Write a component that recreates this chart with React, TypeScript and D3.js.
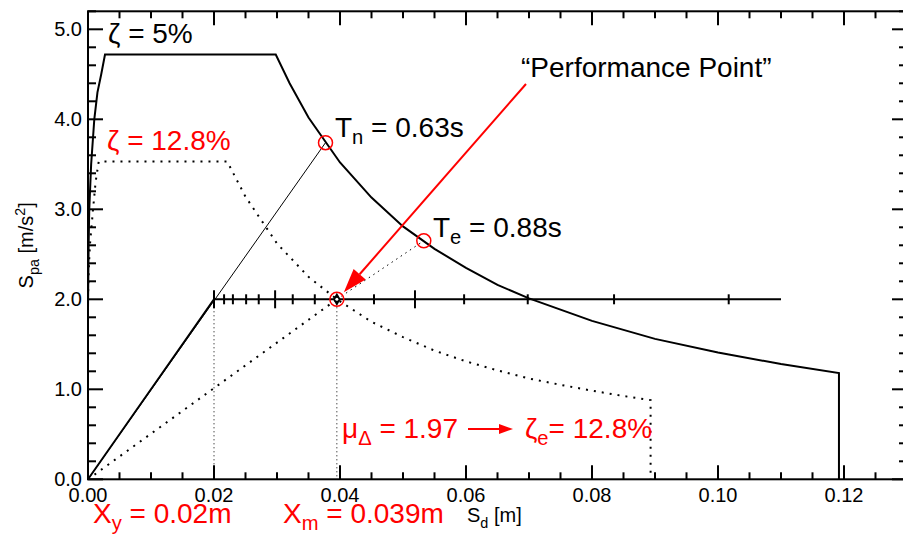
import React from "react"
import * as d3 from "d3"

// 5% damped spectrum (Sd in m, Sa in m/s^2)
const sd5 = [0, 0.0001, 0.0002, 0.0005, 0.001, 0.0015, 0.0021, 0.0027, 0.0298, 0.032, 0.035, 0.04, 0.045, 0.05, 0.055, 0.06, 0.065, 0.07, 0.08, 0.09, 0.1, 0.11, 0.1192]
const sa5 = [1.9, 2.6, 3.0, 3.5, 4.0, 4.3, 4.5, 4.72, 4.72, 4.4, 4.02, 3.52, 3.13, 2.81, 2.56, 2.35, 2.16, 2.01, 1.76, 1.56, 1.41, 1.28, 1.18]

// 12.8% damped spectrum
const sd13 = [0, 0.0001, 0.0003, 0.0008, 0.0012, 0.0017, 0.0221, 0.025, 0.03, 0.035, 0.0395, 0.045, 0.05, 0.055, 0.06, 0.065, 0.07, 0.075, 0.08, 0.085, 0.0893]
const sa13 = [2.0, 2.3, 2.6, 3.0, 3.3, 3.53, 3.53, 3.14, 2.62, 2.25, 2.0, 1.75, 1.58, 1.43, 1.31, 1.21, 1.12, 1.05, 0.985, 0.925, 0.88]

// bilinear capacity curve
const capSd = [0, 0.02, 0.11]
const capSa = [0, 2.0, 2.0]
const capTicksMajor = [0.02, 0.0297, 0.0519]
const capTicksMinor = [0.0216, 0.023, 0.0251, 0.0271, 0.0325, 0.036, 0.0454, 0.0597, 0.0698, 0.0835, 0.1017]

// key points
const yieldPt = [0.02, 2.0]
const perfPt = [0.0395, 2.0]
const tnPt = [0.0377, 3.74]
const tePt = [0.0533, 2.65]

const xTickLabels = ["0.00", "0.02", "0.04", "0.06", "0.08", "0.10", "0.12"]
const yTickLabels = ["0.0", "1.0", "2.0", "3.0", "4.0", "5.0"]

const W = 903
const H = 535
const FONT = "'Liberation Sans', Arial, Helvetica, sans-serif"
const RED = "#ff0000"

export default function App() {
  const x = d3.scaleLinear().domain([0, 0.13]).range([88, 907])
  const y = d3.scaleLinear().domain([0, 5.2]).range([479.3, 11.3])

  const line = d3.line<number[]>().x(d => x(d[0])).y(d => y(d[1]))
  const curve5 = line(sd5.map((s, i) => [s, sa5[i]]).concat([[sd5[sd5.length - 1], 0]]))
  const curve13 = line(sd13.map((s, i) => [s, sa13[i]]).concat([[sd13[sd13.length - 1], 0]]))
  const cap = line(capSd.map((s, i) => [s, capSa[i]]))

  const xMinor = d3.range(0, 0.1301, 0.005)
  const xMajor = d3.range(0, 0.1301, 0.02)
  const yMinor = d3.range(0, 5.21, 0.2)
  const yMajor = d3.range(0, 5.01, 1)

  const x0 = x(0), x1 = x(0.13), y0 = y(0), y1 = y(5.2)

  // red arrow towards the performance point
  const px = x(perfPt[0]), py = y(perfPt[1])
  const tip = [px + 7, py - 7]
  const tail = [526, 84]
  const ang = Math.atan2(tip[1] - tail[1], tip[0] - tail[0])
  const headL = 24, headW = 8
  const base = [tip[0] - headL * Math.cos(ang), tip[1] - headL * Math.sin(ang)]
  const head = [
    tip,
    [base[0] + headW * Math.sin(ang), base[1] - headW * Math.cos(ang)],
    [base[0] - headW * Math.sin(ang), base[1] + headW * Math.cos(ang)],
  ]

  const sub = { fontSize: "0.72em" } as React.CSSProperties

  return (
    <svg width={W} height={H} style={{ position: "absolute", left: 0, top: 0, background: "#fff" }} fontFamily={FONT}>
      {/* frame */}
      <rect x={x0} y={y1} width={x1 - x0} height={y0 - y1} fill="none" stroke="#000" strokeWidth={2} />
      {xMinor.map((v, i) => {
        const major = xMajor.some(m => Math.abs(m - v) < 1e-6)
        const len = major ? 14 : 7
        return (
          <g key={"xt" + i} stroke="#000" strokeWidth={2}>
            <line x1={x(v)} x2={x(v)} y1={y0} y2={y0 - len} />
            <line x1={x(v)} x2={x(v)} y1={y1} y2={y1 + len} />
          </g>
        )
      })}
      {yMinor.map((v, i) => {
        const major = yMajor.some(m => Math.abs(m - v) < 1e-6)
        const len = major ? 15 : 8
        return (
          <g key={"yt" + i} stroke="#000" strokeWidth={2}>
            <line x1={x0} x2={x0 + len} y1={y(v)} y2={y(v)} />
            <line x1={x1} x2={x1 - len} y1={y(v)} y2={y(v)} />
          </g>
        )
      })}
      {xTickLabels.map((t, i) => (
        <text key={"xl" + i} x={x(xMajor[i])} y={502} textAnchor="middle" fontSize={20}>{t}</text>
      ))}
      {yTickLabels.map((t, i) => (
        <text key={"yl" + i} x={82} y={y(yMajor[i]) + 7} textAnchor="end" fontSize={20}>{t}</text>
      ))}

      {/* axis titles */}
      <text x={467} y={522} fontSize={20}>S<tspan dy={6} style={sub}>d</tspan><tspan dy={-6}> [m]</tspan></text>
      <text transform={`translate(33,${y(2.6)}) rotate(-90)`} textAnchor="middle" fontSize={20}>
        S<tspan dy={6} style={sub}>pa</tspan><tspan dy={-6}> [m/s</tspan><tspan dy={-8} style={sub}>2</tspan><tspan dy={8}>]</tspan>
      </text>

      {/* spectra */}
      <path d={curve5 || ""} fill="none" stroke="#000" strokeWidth={2} />
      <path d={curve13 || ""} fill="none" stroke="#000" strokeWidth={2} strokeDasharray="2,6" />

      {/* stiffness lines */}
      <line x1={x(0)} y1={y(0)} x2={x(tnPt[0])} y2={y(tnPt[1])} stroke="#000" strokeWidth={1} />
      <line x1={x(0)} y1={y(0)} x2={x(perfPt[0])} y2={y(perfPt[1])} stroke="#000" strokeWidth={2} strokeDasharray="2,6" />
      <line x1={x(perfPt[0])} y1={y(perfPt[1])} x2={x(tePt[0])} y2={y(tePt[1])} stroke="#000" strokeWidth={1} strokeDasharray="1.5,4" />
      <line x1={x(yieldPt[0])} y1={y(yieldPt[1])} x2={x(yieldPt[0])} y2={y(0)} stroke="#000" strokeWidth={1} strokeDasharray="1,3" />
      <line x1={x(perfPt[0])} y1={y(perfPt[1])} x2={x(perfPt[0])} y2={y(0)} stroke="#000" strokeWidth={1} strokeDasharray="1,3" />

      {/* capacity curve */}
      <path d={cap || ""} fill="none" stroke="#000" strokeWidth={2} />
      {capTicksMajor.map((v, i) => (
        <line key={"cM" + i} x1={x(v)} x2={x(v)} y1={y(2) - 9} y2={y(2) + 9} stroke="#000" strokeWidth={2} />
      ))}
      {capTicksMinor.map((v, i) => (
        <line key={"cm" + i} x1={x(v)} x2={x(v)} y1={y(2) - 5} y2={y(2) + 5} stroke="#000" strokeWidth={2} />
      ))}

      {/* points */}
      <path d={d3.symbol(d3.symbolDiamond, 50)() || ""} transform={`translate(${px},${py})`} fill="#000" />
      <circle cx={px} cy={py} r={1.5} fill="#fff" />
      {[perfPt, tnPt, tePt].map((p, i) => (
        <circle key={"c" + i} cx={x(p[0])} cy={y(p[1])} r={7} fill="none" stroke={RED} strokeWidth={1.5} />
      ))}

      {/* arrow */}
      <line x1={tail[0]} y1={tail[1]} x2={base[0]} y2={base[1]} stroke={RED} strokeWidth={2} />
      <polygon points={head.map(p => p.join(",")).join(" ")} fill={RED} />

      {/* annotations */}
      <g fontSize={28}>
        <text x={108} y={43}>ζ = 5%</text>
        <text x={107} y={150} fill={RED}>ζ = 12.8%</text>
        <text x={335} y={137}>T<tspan dy={7} style={sub}>n</tspan><tspan dy={-7}> = 0.63s</tspan></text>
        <text x={433} y={237}>T<tspan dy={7} style={sub}>e</tspan><tspan dy={-7}> = 0.88s</tspan></text>
        <text x={521} y={77}>“Performance Point”</text>
        <g fill={RED}>
          <text x={342} y={438}>μ<tspan dy={7} style={sub}>Δ</tspan><tspan dy={-7}> = 1.97</tspan></text>
          <text x={525} y={438}>ζ<tspan dy={7} style={sub}>e</tspan><tspan dy={-7}>= 12.8%</tspan></text>
          <text x={93} y={523}>X<tspan dy={7} style={sub}>y</tspan><tspan dy={-7}> = 0.02m</tspan></text>
          <text x={283} y={523}>X<tspan dy={7} style={sub}>m</tspan><tspan dy={-7}> = 0.039m</tspan></text>
        </g>
        <line x1={468} x2={500} y1={429} y2={429} stroke={RED} strokeWidth={2} />
        <polygon points="513,429 499,424 499,434" fill={RED} />
      </g>
    </svg>
  )
}
